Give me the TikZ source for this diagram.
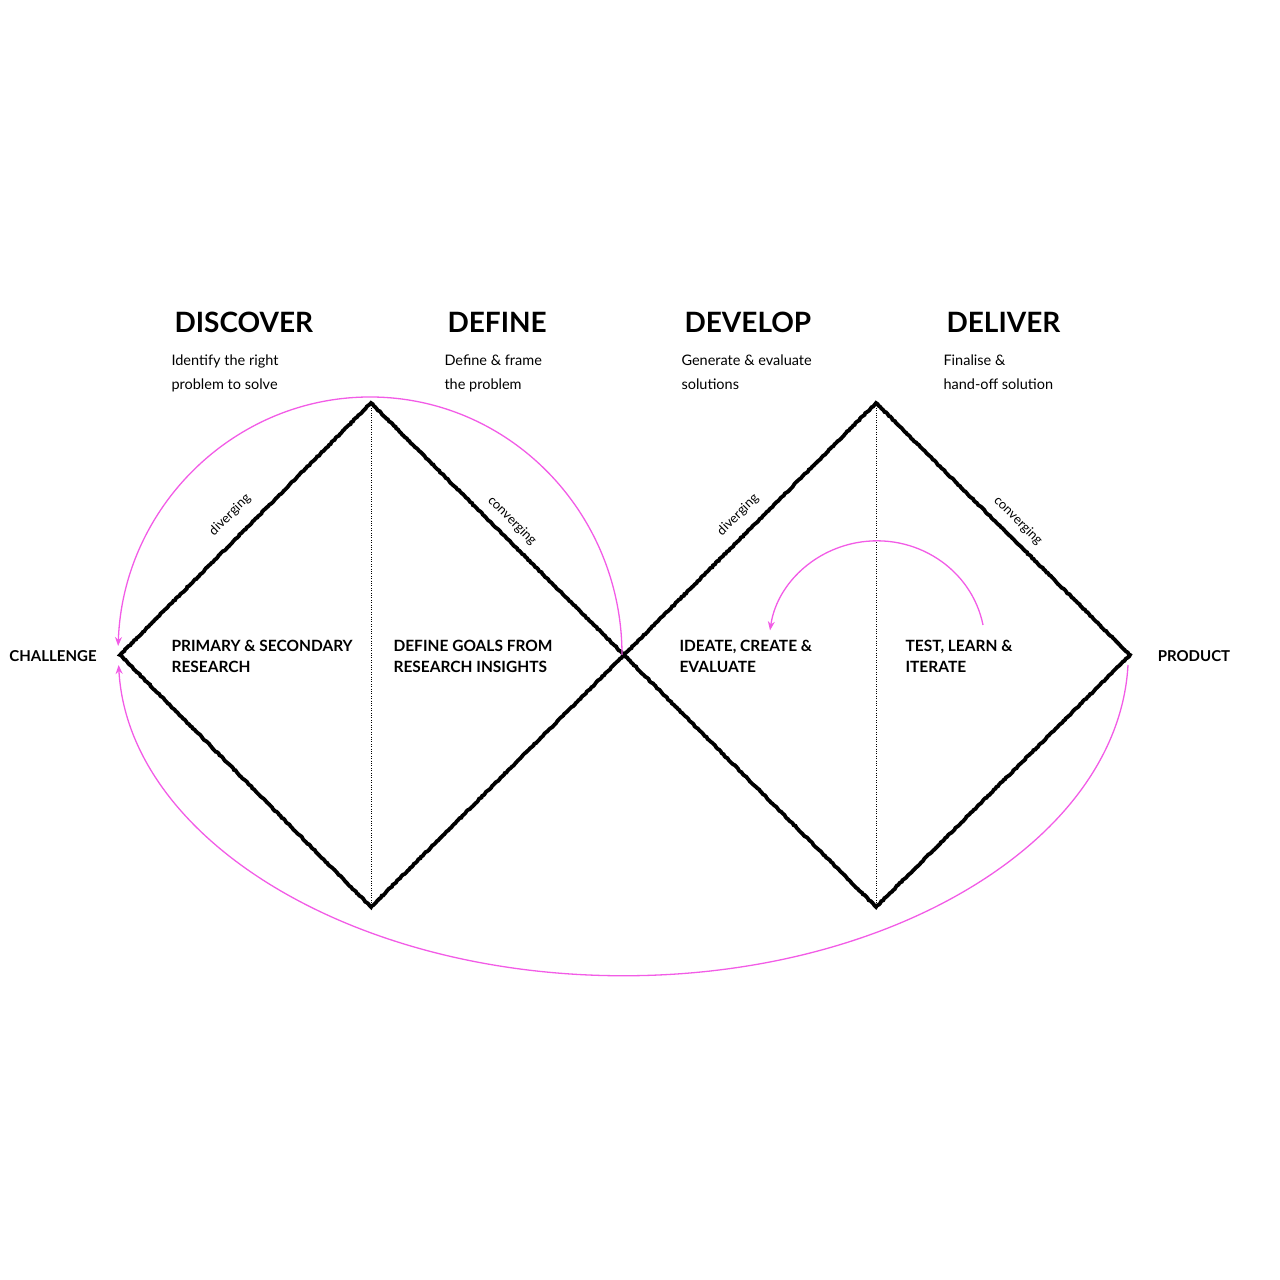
\documentclass[tikz,border=0pt]{standalone}
\usepackage{fontspec}
\setmainfont{Lato}
\usetikzlibrary{arrows.meta,decorations.pathmorphing}
\definecolor{pk}{HTML}{F25CE6}
\tikzset{
  edge/.style={line width=3.8pt,line join=miter,decorate,decoration={random steps,segment length=2pt,amplitude=0.5pt}},
  loop/.style={pk,line width=1.3pt,-{Stealth[length=9pt,width=7pt]}},
  head/.style={anchor=base west,font=\fontsize{28}{30}\selectfont\bfseries},
  sub/.style={anchor=north west,align=left,font=\fontsize{14.5}{24}\selectfont},
  box/.style={anchor=north west,align=left,font=\fontsize{15.5}{21}\selectfont\bfseries},
  side/.style={font=\fontsize{15}{18}\selectfont\bfseries},
  tiny/.style={font=\fontsize{13}{14}\selectfont}
}
\begin{document}
\begin{tikzpicture}[x=1pt,y=1pt]
\useasboundingbox (0,0) rectangle (1280,1280);
\coordinate (L) at (120,625);
\coordinate (T1) at (371,877);
\coordinate (M) at (624,625);
\coordinate (B1) at (371,373);
\coordinate (T2) at (876,877);
\coordinate (R) at (1130,625);
\coordinate (B2) at (876,373);
\draw[dotted,thin] (T1) -- (B1);
\draw[dotted,thin] (T2) -- (B2);
\draw[edge] (L) -- (T1) -- (M) -- (B1) -- cycle;
\draw[edge] (M) -- (T2) -- (R) -- (B2) -- cycle;
\draw[loop] (622,625) arc[start angle=0,end angle=178,x radius=252,y radius=258];
\draw[loop] (1128,615) arc[start angle=-2,end angle=-178,x radius=505,y radius=322];
\draw[loop] (983,655) arc[start angle=11,end angle=172,x radius=108,y radius=104];
\node[head] (h1) at (171,947) {DISCOVER};
\node[head] (h2) at (444,947) {DEFINE};
\node[head] (h3) at (681,947) {DEVELOP};
\node[head] (h4) at (943,947) {DELIVER};
\node[sub] (s1) at (168,929) {Identify the right\\problem to solve};
\node[sub] (s2) at (441,929) {Define \& frame\\the problem};
\node[sub] (s3) at (678,929) {Generate \& evaluate\\solutions};
\node[sub] (s4) at (940,929) {Finalise \&\\hand-off solution};
\node[box] (b1) at (168,643) {PRIMARY \& SECONDARY\\RESEARCH};
\node[box] (b2) at (390,643) {DEFINE GOALS FROM\\RESEARCH INSIGHTS};
\node[box] (b3) at (676,643) {IDEATE, CREATE \&\\EVALUATE};
\node[box] (b4) at (902,643) {TEST, LEARN \&\\ITERATE};
\node[side] (c) at (53,624) {CHALLENGE};
\node[side] (p) at (1194,624) {PRODUCT};
\node[tiny,rotate=45] (d1) at (230,765) {diverging};
\node[tiny,rotate=-45] (c1) at (512,759) {converging};
\node[tiny,rotate=45] (d2) at (738,765) {diverging};
\node[tiny,rotate=-45] (c2) at (1018,759) {converging};
\end{tikzpicture}
\end{document}
